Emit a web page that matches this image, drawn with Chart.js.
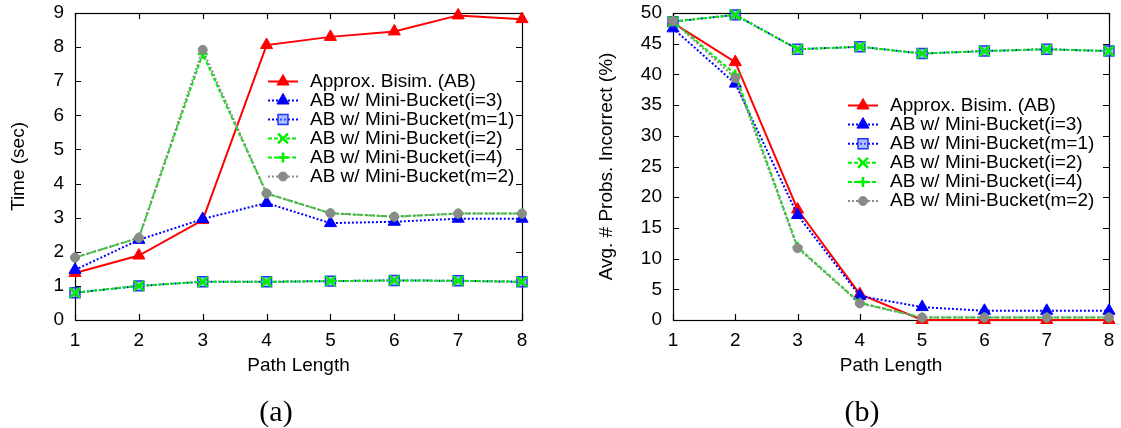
<!DOCTYPE html>
<html><head><meta charset="utf-8">
<script src="https://cdn.jsdelivr.net/npm/chart.js@4.4.1/dist/chart.umd.min.js"></script>
<style>
html,body{margin:0;padding:0;background:#fff;}
#wrap{position:relative;width:1121px;height:428px;overflow:hidden;background:#fff;}
canvas{position:absolute;top:0;}
.cap{position:absolute;font-family:"Liberation Serif",serif;font-size:30px;line-height:30px;width:100px;text-align:center;color:#000;}
</style></head><body>
<div id="wrap">
<canvas id="c1" width="560" height="428" style="left:0"></canvas>
<canvas id="c2" width="561" height="428" style="left:560px"></canvas>
<div class="cap" style="left:226px;top:396px">(a)</div>
<div class="cap" style="left:812px;top:396px">(b)</div>
</div>
<script>
// ---- data ----
const pathLengths = ['1','2','3','4','5','6','7','8'];
const seriesNames = ['Approx. Bisim. (AB)','AB w/ Mini-Bucket(i=3)','AB w/ Mini-Bucket(m=1)','AB w/ Mini-Bucket(i=2)','AB w/ Mini-Bucket(i=4)','AB w/ Mini-Bucket(m=2)'];

const timeAB = [1.38, 1.89, 2.93, 8.06, 8.30, 8.46, 8.93, 8.82];
const timeI3 = [1.47, 2.35, 2.96, 3.43, 2.84, 2.88, 2.97, 2.97];
const timeM1 = [0.80, 1.00, 1.12, 1.12, 1.14, 1.16, 1.15, 1.12];
const timeI2 = [0.80, 1.00, 1.12, 1.12, 1.14, 1.16, 1.15, 1.12];
const timeI4 = [1.83, 2.41, 7.80, 3.71, 3.13, 3.03, 3.12, 3.12];
const timeM2 = [1.83, 2.41, 7.92, 3.71, 3.13, 3.03, 3.12, 3.12];

const errAB = [48.4, 42.0, 18.0, 4.2, 0.0, 0.0, 0.0, 0.0];
const errI3 = [47.5, 38.5, 17.1, 3.9, 2.1, 1.5, 1.5, 1.5];
const errM1 = [48.6, 49.7, 44.1, 44.5, 43.4, 43.8, 44.1, 43.8];
const errI2 = [48.6, 49.7, 44.1, 44.5, 43.4, 43.8, 44.1, 43.8];
const errI4 = [48.7, 40.0, 11.9, 2.8, 0.4, 0.4, 0.4, 0.4];
const errM2 = [48.7, 39.4, 11.7, 2.7, 0.4, 0.4, 0.4, 0.4];

const timeTicks = {min: 0, max: 9, step: 1};
const errTicks = {min: 0, max: 50, step: 5};

// ---- styles ----
const styles = [
  {borderColor:'#ff0000', borderWidth:2, borderDash:[], pointStyle:'triangle', pointRadius:7, pointBackgroundColor:'#ff0000', pointBorderColor:'#ff0000', pointBorderWidth:1, order:6},
  {borderColor:'#0000ff', borderWidth:2, borderDash:[2,2], pointStyle:'triangle', pointRadius:7, pointBackgroundColor:'#0000ff', pointBorderColor:'#0000ff', pointBorderWidth:1, order:5},
  {borderColor:'#0000ff', borderWidth:2, borderDash:[2,2], pointStyle:'rect', pointRadius:7, pointBackgroundColor:'rgba(110,140,255,0.55)', pointBorderColor:'#2233ff', pointBorderWidth:1.5, order:4},
  {borderColor:'#00ee00', borderWidth:2, borderDash:[4,2], pointStyle:'crossRot', pointRadius:7, pointBackgroundColor:'#00ee00', pointBorderColor:'#00ee00', pointBorderWidth:2.5, order:3},
  {borderColor:'#00ee00', borderWidth:2, borderDash:[4,2], pointStyle:'cross', pointRadius:5, pointBackgroundColor:'#00ee00', pointBorderColor:'#00ee00', pointBorderWidth:2.5, order:2},
  {borderColor:'#8a8a8a', borderWidth:2, borderDash:[2,2], pointStyle:'circle', pointRadius:4.5, pointBackgroundColor:'#8a8a8a', pointBorderColor:'#8a8a8a', pointBorderWidth:1, order:1}
];

function makeDatasets(arrs){
  return arrs.map((d,i)=>Object.assign({label: seriesNames[i], data: d, tension:0, fill:false, clip:false}, styles[i]));
}

Chart.defaults.font.family = '"Liberation Sans", Arial, sans-serif';
Chart.defaults.font.size = 19;
Chart.defaults.color = '#000';

const framePlugin = {
  id:'gpFrame',
  beforeDatasetsDraw(chart){
    const {ctx, chartArea:a, scales:{x,y}} = chart;
    ctx.save();
    ctx.strokeStyle = '#000'; ctx.lineWidth = 1.2; ctx.setLineDash([]);
    ctx.strokeRect(a.left+0.5, a.top+0.5, a.right-a.left, a.bottom-a.top);
    ctx.beginPath();
    const L = 6;
    x.ticks.forEach((t,i)=>{
      const px = Math.round(x.getPixelForTick(i))+0.5;
      ctx.moveTo(px, a.bottom); ctx.lineTo(px, a.bottom-L);
      ctx.moveTo(px, a.top); ctx.lineTo(px, a.top+L);
    });
    y.ticks.forEach((t,i)=>{
      const py = Math.round(y.getPixelForTick(i))+0.5;
      ctx.moveTo(a.left, py); ctx.lineTo(a.left+L, py);
      ctx.moveTo(a.right, py); ctx.lineTo(a.right-L, py);
    });
    ctx.stroke();
    ctx.restore();
  }
};

const legendPlugin = {
  id:'gpLegend',
  afterDatasetsDraw(chart, args, opts){
    const ctx = chart.ctx;
    ctx.save();
    chart.data.datasets.forEach((ds,i)=>{
      const y = opts.y + i*opts.spacing;
      ctx.strokeStyle = ds.borderColor; ctx.lineWidth = ds.borderWidth;
      ctx.setLineDash(ds.borderDash||[]);
      ctx.beginPath(); ctx.moveTo(opts.x0, y); ctx.lineTo(opts.x1, y); ctx.stroke();
      ctx.setLineDash([]);
      ctx.fillStyle = ds.pointBackgroundColor; ctx.strokeStyle = ds.pointBorderColor; ctx.lineWidth = ds.pointBorderWidth;
      Chart.helpers.drawPoint(ctx, {pointStyle: ds.pointStyle, radius: ds.pointRadius, borderWidth: ds.pointBorderWidth, rotation:0}, (opts.x0+opts.x1)/2, y);
      ctx.fillStyle = '#000';
      ctx.font = '19px "Liberation Sans", Arial, sans-serif';
      ctx.textAlign = 'left'; ctx.textBaseline = 'middle';
      ctx.fillText(ds.label, opts.tx, y);
    });
    ctx.restore();
  }
};

function makeChart(id, arrs, tk, yTitle, yWidth, yTitlePad, padRight, leg){
  return new Chart(document.getElementById(id), {
    type:'line',
    data:{labels: pathLengths, datasets: makeDatasets(arrs)},
    options:{
      responsive:false, animation:false, devicePixelRatio:1,
      layout:{padding:{left:0, top:13, right:padRight, bottom:48}},
      plugins:{legend:{display:false}, tooltip:{enabled:false}, gpLegend: leg},
      scales:{
        x:{type:'category', offset:false, grid:{display:false, drawTicks:false}, border:{display:false},
           ticks:{padding:9, maxRotation:0, autoSkip:false, color:'#000'},
           title:{display:true, text:'Path Length', color:'#000', padding:{top:0,bottom:3}},
           afterFit(s){ s.height = 60; s.paddingLeft = 0; s.paddingRight = 0; }},
        y:{min:tk.min, max:tk.max, grid:{display:false, drawTicks:false}, border:{display:false},
           ticks:{stepSize:tk.step, padding:11, color:'#000'},
           title:{display:true, text:yTitle, color:'#000', padding:{top:yTitlePad,bottom:0}},
           afterFit(s){ s.width = yWidth; s.paddingTop = 0; s.paddingBottom = 0; }}
      }
    },
    plugins:[framePlugin, legendPlugin]
  });
}

makeChart('c1', [timeAB,timeI3,timeM1,timeI2,timeI4,timeM2], timeTicks, 'Time (sec)', 75, 7, 38,
  {x0:268, x1:298, tx:310, y:81.5, spacing:19});
makeChart('c2', [errAB,errI3,errM1,errI2,errI4,errM2], errTicks, 'Avg. # Probs. Incorrect (%)', 113, 35, 12,
  {x0:288, x1:318, tx:330, y:105.5, spacing:19.1});
</script>
</body></html>
